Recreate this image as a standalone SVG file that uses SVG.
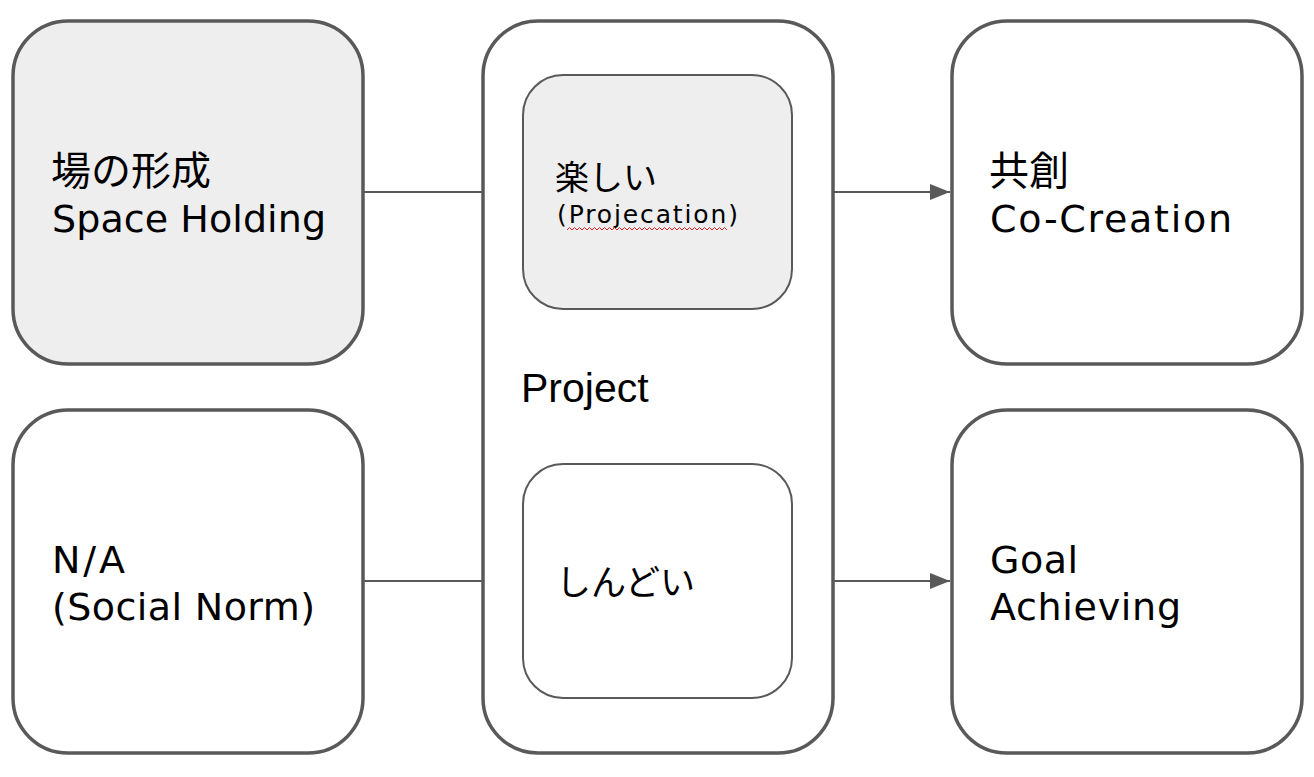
<svg xmlns="http://www.w3.org/2000/svg" width="1314" height="777" viewBox="0 0 1314 777">
<style>
.box{stroke:#595959;stroke-width:3.5;fill:#fff}
.inner{stroke:#595959;stroke-width:2;fill:#fff}
.grey{fill:#eeeeee}
.j{font-family:"Noto Sans CJK JP",sans-serif;font-size:40px;fill:#000}
.t{font-family:"DejaVu Sans","Noto Sans CJK JP",sans-serif;font-size:38px;fill:#000}
.ts{font-family:"Noto Sans CJK JP",sans-serif;font-size:34px;fill:#000}
.ts2{font-family:"DejaVu Sans","Noto Sans CJK JP",sans-serif;font-size:25px;fill:#000}
.ts3{font-family:"Noto Sans CJK JP",sans-serif;font-size:35px;fill:#000}
.p{font-family:"Liberation Sans",Arial,sans-serif;font-size:41px;fill:#000}
.c{stroke:#595959;stroke-width:2;fill:none}
</style>
<defs>
<marker id="arrh" viewBox="0 0 20 16" refX="20" refY="8" markerWidth="20" markerHeight="16" orient="auto" markerUnits="userSpaceOnUse">
<path d="M0,0 L20,8 L0,16 z" fill="#595959"/>
</marker>
</defs>
<g id="connectors">
<line class="c" x1="363" y1="192" x2="483" y2="192"/>
<line class="c" x1="833" y1="192" x2="950" y2="192" marker-end="url(#arrh)"/>
<line class="c" x1="363" y1="581" x2="483" y2="581"/>
<line class="c" x1="833" y1="581" x2="950" y2="581" marker-end="url(#arrh)"/>
</g>
<g id="space-holding">
<rect class="box grey" x="13" y="21" width="350" height="343" rx="55"/>
<text class="j" x="51" y="185">場の形成</text>
<text class="t" x="52" y="232" textLength="274" lengthAdjust="spacing">Space Holding</text>
</g>
<g id="social-norm">
<rect class="box" x="13" y="410" width="350" height="343" rx="55"/>
<text class="t" x="52" y="573" textLength="73" lengthAdjust="spacing">N/A</text>
<text class="t" x="52" y="620" textLength="263" lengthAdjust="spacing">(Social Norm)</text>
</g>
<g id="project">
<rect class="box" x="483" y="21" width="350" height="732" rx="55"/>
<text class="p" x="521" y="402">Project</text>
</g>
<g id="tanoshii">
<rect class="inner grey" x="523" y="75" width="269" height="234" rx="40"/>
<text class="ts" x="555" y="190">楽しい</text>
<text class="ts2" x="557" y="223" textLength="181" lengthAdjust="spacing">(Projecation)</text>
<path d="M567,230 l2.5,-2.5 2.5,2.5 2.5,-2.5 2.5,2.5 2.5,-2.5 2.5,2.5 2.5,-2.5 2.5,2.5 2.5,-2.5 2.5,2.5 2.5,-2.5 2.5,2.5 2.5,-2.5 2.5,2.5 2.5,-2.5 2.5,2.5 2.5,-2.5 2.5,2.5 2.5,-2.5 2.5,2.5 2.5,-2.5 2.5,2.5 2.5,-2.5 2.5,2.5 2.5,-2.5 2.5,2.5 2.5,-2.5 2.5,2.5 2.5,-2.5 2.5,2.5 2.5,-2.5 2.5,2.5 2.5,-2.5 2.5,2.5 2.5,-2.5 2.5,2.5 2.5,-2.5 2.5,2.5 2.5,-2.5 2.5,2.5 2.5,-2.5 2.5,2.5 2.5,-2.5 2.5,2.5 2.5,-2.5 2.5,2.5 2.5,-2.5 2.5,2.5 2.5,-2.5 2.5,2.5 2.5,-2.5 2.5,2.5 2.5,-2.5 2.5,2.5 2.5,-2.5 2.5,2.5 2.5,-2.5 2.5,2.5 2.5,-2.5 2.5,2.5 2.5,-2.5 2.5,2.5 2.5,-2.5 2.5,2.5" fill="none" stroke="#e02020" stroke-width="1"/>
</g>
<g id="shindoi">
<rect class="inner" x="523" y="464" width="269" height="234" rx="40"/>
<text class="ts3" x="556" y="595">しんどい</text>
</g>
<g id="co-creation">
<rect class="box" x="952" y="21" width="350" height="343" rx="55"/>
<text class="j" x="989" y="185">共創</text>
<text class="t" x="990" y="232" textLength="242" lengthAdjust="spacing">Co-Creation</text>
</g>
<g id="goal-achieving">
<rect class="box" x="952" y="410" width="350" height="343" rx="55"/>
<text class="t" x="990" y="573" textLength="88" lengthAdjust="spacing">Goal</text>
<text class="t" x="990" y="620" textLength="191" lengthAdjust="spacing">Achieving</text>
</g>
</svg>
